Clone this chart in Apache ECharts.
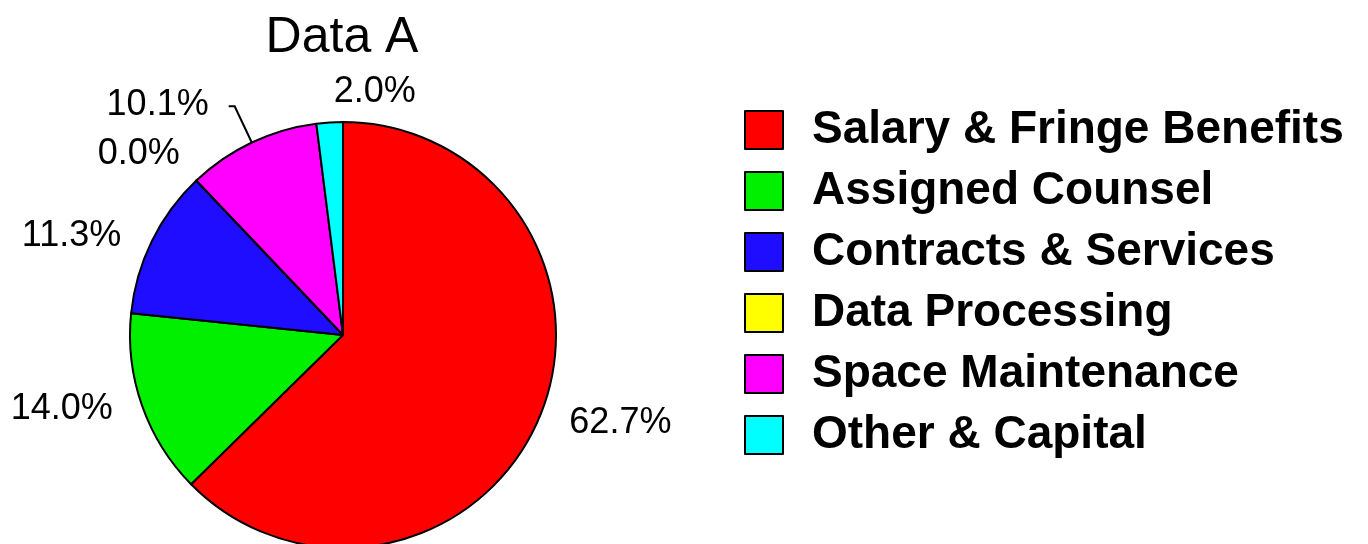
<!DOCTYPE html>
<html>
<head>
<meta charset="utf-8">
<script src="https://cdn.jsdelivr.net/npm/echarts@6/dist/echarts.min.js"></script>
<style>
  html, body { margin: 0; padding: 0; background: #ffffff; }
  #chart { width: 1368px; height: 544px; }
</style>
</head>
<body>
<div id="chart"></div>
<script>
// Budget shares by expense category (percent of total)
const categories = [
  'Salary & Fringe Benefits',
  'Assigned Counsel',
  'Contracts & Services',
  'Data Processing',
  'Space Maintenance',
  'Other & Capital'
];
const shares = [62.7, 14.0, 11.3, 0.0, 10.1, 2.0];
const sliceColors = ['#ff0000', '#00f000', '#1e0dff', '#ffff00', '#ff00ff', '#00ffff'];

// Small offsets applied to the outside percentage labels [dx, dy]
const labelNudges = [[4, 0], [-3, -1], [-5, 1], [6, -16], [0, -1], [100, -16]];

const chart = echarts.init(document.getElementById('chart'), null, { renderer: 'canvas' });

const pieData = categories.map((name, i) => {
  const item = {
    name: name,
    value: shares[i],
    itemStyle: { color: sliceColors[i] },
    labelLine: { show: false }
  };
  if (i === 4) {
    // Space Maintenance keeps a visible leader line
    item.labelLine = { show: true, length: 40, length2: 6 };
    item.label = { distanceToLabelLine: 20 };
  }
  return item;
});

chart.setOption({
  animation: false,
  backgroundColor: '#ffffff',
  title: {
    text: 'Data A',
    left: 337,
    top: 8,
    textAlign: 'center',
    textStyle: {
      fontFamily: 'Liberation Sans, Arial, sans-serif',
      fontSize: 50,
      fontWeight: 'normal',
      color: '#000000'
    }
  },
  legend: {
    orient: 'vertical',
    left: 739,
    top: 102,
    itemWidth: 38,
    itemHeight: 38,
    itemGap: 15,
    icon: 'rect',
    selectedMode: false,
    itemStyle: { borderColor: '#000000', borderWidth: 2 },
    textStyle: {
      fontFamily: 'Liberation Sans, Arial, sans-serif',
      fontSize: 46,
      lineHeight: 46,
      fontWeight: 'bold',
      color: '#000000',
      padding: [0, 0, 0, 24]
    },
    data: categories
  },
  series: [{
    type: 'pie',
    center: [343, 335],
    radius: 213,
    startAngle: 90,
    clockwise: true,
    avoidLabelOverlap: false,
    stillShowZeroSum: true,
    minShowLabelAngle: 0,
    itemStyle: { borderColor: '#000000', borderWidth: 2 },
    label: {
      show: true,
      position: 'outside',
      formatter: p => p.value.toFixed(1) + '%',
      fontFamily: 'Liberation Sans, Arial, sans-serif',
      fontSize: 36,
      color: '#000000'
    },
    labelLine: {
      length: 14,
      length2: 8,
      lineStyle: { color: '#000000', width: 2 }
    },
    labelLayout: p => ({ dx: labelNudges[p.dataIndex][0], dy: labelNudges[p.dataIndex][1] }),
    emphasis: { disabled: true },
    data: pieData
  }]
});
</script>
</body>
</html>
